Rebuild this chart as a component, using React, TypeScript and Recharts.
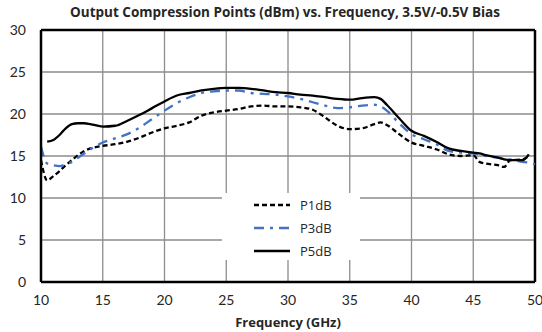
import React from 'react';
import { LineChart, Line, XAxis, YAxis, CartesianGrid, Legend, ReferenceLine, Label } from 'recharts';

const FONT = 'Lato, "Open Sans", sans-serif';
const TITLE_FONT = '"Open Sans", Lato, sans-serif';

// frequency points (GHz)
const freqs = [
  10, 10.5, 11, 11.5, 12, 12.5, 13, 13.5, 14, 15, 16, 17, 18, 19, 20, 21, 22, 23, 24, 25,
  26, 27, 28, 29, 30, 31, 32, 33, 34, 35, 36, 37, 37.5, 38, 39, 40, 41, 42, 43, 44, 45,
  45.5, 46, 47, 47.5, 48, 49, 49.5, 50,
];

// dBm values
const p1dB = [
  14.5, 12.1, 12.6, 13.2, 13.9, 14.5, 15.1, 15.6, 15.9, 16.2, 16.4, 16.7, 17.2, 17.8, 18.3, 18.6, 19.0, 19.8, 20.2, 20.4,
  20.6, 20.9, 21.0, 20.9, 20.9, 20.8, 20.5, 19.6, 18.6, 18.2, 18.3, 18.8, 19.0, 18.7, 17.6, 16.6, 16.2, 15.8, 15.2, 15.0, 15.1,
  14.3, 14.1, 13.9, 13.7, 14.5, 14.6, 15.0, null,
];
const p3dB = [
  16.1, 14.1, 13.9, 13.8, 14.0, 14.3, 14.8, 15.3, 15.8, 16.6, 17.1, 17.6, 18.4, 19.4, 20.4, 21.3, 22.0, 22.5, 22.7, 22.8,
  22.8, 22.5, 22.4, 22.3, 22.1, 21.8, 21.4, 21.0, 20.7, 20.8, 21.0, 21.1, 20.9, 20.4, 18.9, 17.6, 17.0, 16.4, 15.6, 15.4, 15.3,
  15.2, 15.0, 14.8, 14.7, 14.6, 14.3, 14.2, 14.0,
];
const p5dB = [
  null, 16.7, 16.9, 17.5, 18.3, 18.8, 18.9, 18.9, 18.8, 18.5, 18.6, 19.2, 19.9, 20.7, 21.5, 22.2, 22.5, 22.8, 23.0, 23.1,
  23.1, 23.0, 22.8, 22.6, 22.5, 22.3, 22.2, 22.0, 21.8, 21.7, 21.9, 22.0, 21.8, 21.1, 19.5, 18.0, 17.4, 16.7, 15.9, 15.6, 15.4,
  15.3, 15.1, 14.8, 14.6, 14.5, 14.5, 15.2, null,
];

const xTicks = [10, 15, 20, 25, 30, 35, 40, 45, 50];
const yTicks = [0, 5, 10, 15, 20, 25, 30];

const seriesStyle = [
  { key: 'p1', name: 'P1dB', color: '#000000', dash: '5 3' },
  { key: 'p3', name: 'P3dB', color: '#4472C4', dash: '10 6 3 6' },
  { key: 'p5', name: 'P5dB', color: '#000000', dash: undefined as string | undefined },
];

const data = freqs.map((f, i) => ({ f, p1: p1dB[i], p3: p3dB[i], p5: p5dB[i] }));

const LegendBox = () => (
  <div style={{ background: '#fff', width: 138, height: 67, fontFamily: TITLE_FONT, fontSize: 13, color: '#262626' }}>
    {seriesStyle.map((s) => (
      <div key={s.key} style={{ display: 'flex', alignItems: 'center', height: 23 }}>
        <svg width={78} height={10} style={{ display: 'block' }}>
          <line x1={32} y1={5} x2={68} y2={5} stroke={s.color} strokeWidth={2.5} strokeDasharray={s.dash} />
        </svg>
        <span>{s.name}</span>
      </div>
    ))}
  </div>
);

export default function App() {
  return (
    <div style={{ position: 'absolute', left: 0, top: 0, width: 542, height: 332, background: '#fff' }}>
      <div
        style={{
          position: 'absolute', left: 0, top: 3, width: 542, textAlign: 'center', paddingLeft: 28, boxSizing: 'border-box',
          fontFamily: TITLE_FONT, fontWeight: 700, fontSize: 13.5, color: '#262626', zIndex: 2,
        }}
      >
        Output Compression Points (dBm) vs. Frequency, 3.5V/-0.5V Bias
      </div>
      <LineChart width={542} height={332} data={data} margin={{ top: 30, right: 7, bottom: 0, left: 0 }}>
        <CartesianGrid stroke="#8c8c8c" strokeWidth={1.3} />
        <XAxis
          dataKey="f"
          type="number"
          domain={[10, 50]}
          ticks={xTicks}
          interval={0}
          height={50}
          tickLine={false}
          tickMargin={7}
          axisLine={{ stroke: '#000', strokeWidth: 2.5 }}
          tick={{ fontFamily: FONT, fontSize: 14, fill: '#262626' }}
        >
          <Label
            value="Frequency (GHz)"
            position="insideBottom"
            offset={5}
            style={{ fontFamily: TITLE_FONT, fontWeight: 700, fontSize: 13, fill: '#262626' }}
          />
        </XAxis>
        <YAxis
          type="number"
          domain={[0, 30]}
          ticks={yTicks}
          interval={0}
          width={41}
          tickLine={false}
          tickMargin={9}
          axisLine={{ stroke: '#000', strokeWidth: 2.5 }}
          tick={{ fontFamily: FONT, fontSize: 14, fill: '#262626' }}
        />
        <ReferenceLine y={30} stroke="#000" strokeWidth={2.5} />
        <ReferenceLine x={50} stroke="#000" strokeWidth={2.5} />
        {seriesStyle.map((s) => (
          <Line
            key={s.key}
            dataKey={s.key}
            name={s.name}
            type="monotone"
            stroke={s.color}
            strokeWidth={2.3}
            strokeDasharray={s.dash}
            dot={false}
            activeDot={false}
            connectNulls={false}
            isAnimationActive={false}
          />
        ))}
        <Legend
          layout="vertical"
          align="center"
          verticalAlign="middle"
          content={<LegendBox />}
          wrapperStyle={{ left: 222, top: 193, width: 138, height: 67 }}
        />
      </LineChart>
    </div>
  );
}
